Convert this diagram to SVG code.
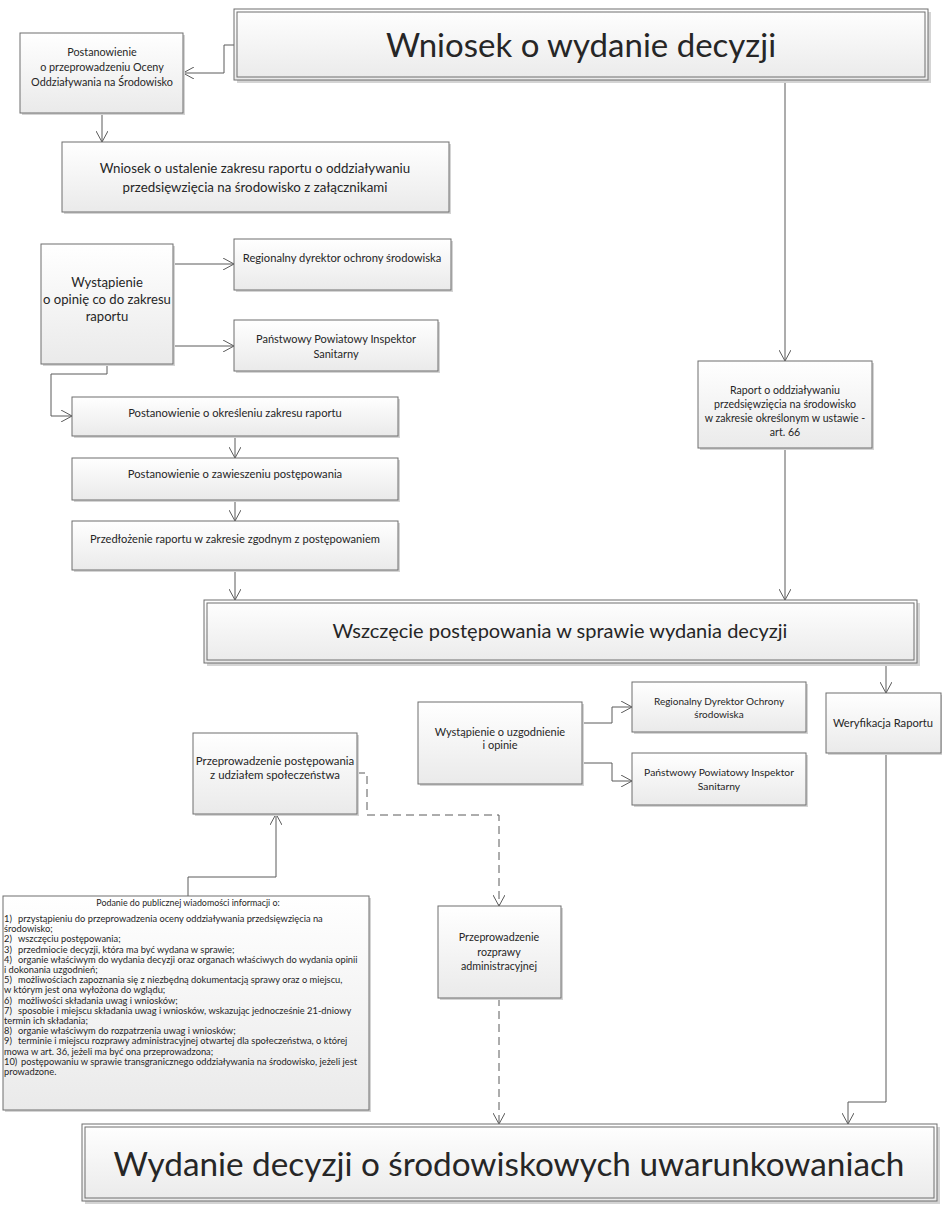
<svg xmlns="http://www.w3.org/2000/svg" width="942" height="1209" viewBox="0 0 942 1209">
<defs>
<linearGradient id="g" x1="0" y1="0" x2="0" y2="1">
<stop offset="0" stop-color="#ffffff"/>
<stop offset="1" stop-color="#eaeaea"/>
</linearGradient>
<marker id="ah" markerUnits="userSpaceOnUse" markerWidth="12" markerHeight="12" refX="11" refY="6" orient="auto">
<path d="M0,0 L11,6 L0,12" fill="none" stroke="#5a5a5a" stroke-width="1"/>
</marker>
</defs>
<style>
.box{fill:url(#g);stroke:#6e6e6e;stroke-width:1}
.in{fill:none;stroke:#6e6e6e;stroke-width:1}
.sh{fill:#d4d4d4}
text{font-family:Lato,"Open Sans","Liberation Sans",sans-serif;fill:#262626;text-anchor:middle}
.l{text-anchor:start}
.c{fill:none;stroke:#5a5a5a;stroke-width:1;marker-end:url(#ah)}
.d{stroke-dasharray:8 5}
</style>
<g id="connectors">
<path class="c" d="M234,45 H224 V73 H183"/>
<path class="c" d="M102,113 V142"/>
<path class="c" d="M173,264 H234"/>
<path class="c" d="M173,346 H234"/>
<path class="c" d="M107,364 V374 H51 V416 H72"/>
<path class="c" d="M235,436 V458"/>
<path class="c" d="M235,500 V521"/>
<path class="c" d="M235,570 V600"/>
<path class="c" d="M785,80 V361"/>
<path class="c" d="M785,448 V600"/>
<path class="c" d="M886,663 V693"/>
<path class="c" d="M886,753 V1102 H848 V1124"/>
<path class="c" d="M582,723 H612 V707 H632"/>
<path class="c" d="M582,763 H612 V781 H632"/>
<path class="c d" d="M357,773 H367 V815 H499 V906"/>
<path class="c d" d="M499,998 V1124"/>
<path class="c" d="M188,896 V877 H276 V814"/>
</g>
<g id="n-wniosek">
<rect class="sh" x="237" y="12" width="694" height="71"/>
<rect class="box" x="234" y="9" width="694" height="71"/>
<rect class="in" x="237" y="12" width="688" height="65"/>
<text x="581" y="57" font-size="33">Wniosek o wydanie decyzji</text>
</g>
<g id="n-postanowienie-oos">
<rect class="sh" x="22" y="35" width="163" height="80"/>
<rect class="box" x="20" y="33" width="163" height="80"/>
<text x="102" y="56" font-size="10.8">Postanowienie</text>
<text x="102" y="71" font-size="10.8">o przeprowadzeniu Oceny</text>
<text x="102" y="86" font-size="10.8">Oddziaływania na Środowisko</text>
</g>
<g id="n-wniosek-zakres">
<rect class="sh" x="64" y="144" width="387" height="70"/>
<rect class="box" x="62" y="142" width="387" height="70"/>
<text x="255" y="173" font-size="13.3">Wniosek o ustalenie zakresu raportu o oddziaływaniu</text>
<text x="255" y="192" font-size="13.3">przedsięwzięcia na środowisko z załącznikami</text>
</g>
<g id="n-wystapienie-opinia">
<rect class="sh" x="43" y="246" width="132" height="120"/>
<rect class="box" x="41" y="244" width="132" height="120"/>
<text x="107" y="287" font-size="13.1">Wystąpienie</text>
<text x="107" y="304" font-size="13.1">o opinię co do zakresu</text>
<text x="107" y="321" font-size="13.1">raportu</text>
</g>
<g id="n-rdos-1">
<rect class="sh" x="236" y="241" width="217" height="51"/>
<rect class="box" x="234" y="239" width="217" height="51"/>
<text x="342" y="262" font-size="11.2">Regionalny dyrektor ochrony środowiska</text>
</g>
<g id="n-ppis-1">
<rect class="sh" x="236" y="322" width="204" height="51"/>
<rect class="box" x="234" y="320" width="204" height="51"/>
<text x="336" y="343" font-size="11">Państwowy Powiatowy Inspektor</text>
<text x="336" y="358" font-size="11">Sanitarny</text>
</g>
<g id="n-okreslenie">
<rect class="sh" x="74" y="399" width="326" height="39"/>
<rect class="box" x="72" y="397" width="326" height="39"/>
<text x="235" y="417" font-size="11.2">Postanowienie o określeniu zakresu raportu</text>
</g>
<g id="n-zawieszenie">
<rect class="sh" x="74" y="460" width="326" height="42"/>
<rect class="box" x="72" y="458" width="326" height="42"/>
<text x="235" y="478" font-size="11.2">Postanowienie o zawieszeniu postępowania</text>
</g>
<g id="n-przedlozenie">
<rect class="sh" x="74" y="523" width="326" height="49"/>
<rect class="box" x="72" y="521" width="326" height="49"/>
<text x="235" y="543" font-size="11.1">Przedłożenie raportu w zakresie zgodnym z postępowaniem</text>
</g>
<g id="n-raport">
<rect class="sh" x="700" y="363" width="174" height="87"/>
<rect class="box" x="698" y="361" width="174" height="87"/>
<text x="785" y="394" font-size="10.6">Raport o oddziaływaniu</text>
<text x="785" y="408" font-size="10.6">przedsięwzięcia na środowisko</text>
<text x="785" y="422" font-size="10.6">w zakresie określonym w ustawie -</text>
<text x="785" y="436" font-size="10.6">art. 66</text>
</g>
<g id="n-wszczecie">
<rect class="sh" x="207" y="603" width="713" height="63"/>
<rect class="box" x="204" y="600" width="713" height="63"/>
<rect class="in" x="207" y="603" width="707" height="57"/>
<text x="560" y="638" font-size="20">Wszczęcie postępowania w sprawie wydania decyzji</text>
</g>
<g id="n-weryfikacja">
<rect class="sh" x="828" y="695" width="116" height="60"/>
<rect class="box" x="826" y="693" width="115" height="60"/>
<text x="883" y="727" font-size="11.2">Weryfikacja Raportu</text>
</g>
<g id="n-wystapienie-uzgodnienie">
<rect class="sh" x="420" y="704" width="164" height="82"/>
<rect class="box" x="418" y="702" width="164" height="82"/>
<text x="500" y="736" font-size="11">Wystąpienie o uzgodnienie</text>
<text x="500" y="749" font-size="11">i opinie</text>
</g>
<g id="n-rdos-2">
<rect class="sh" x="634" y="684" width="174" height="50"/>
<rect class="box" x="632" y="682" width="174" height="50"/>
<text x="719" y="705" font-size="10">Regionalny Dyrektor Ochrony</text>
<text x="719" y="718" font-size="10">środowiska</text>
</g>
<g id="n-ppis-2">
<rect class="sh" x="634" y="755" width="174" height="52"/>
<rect class="box" x="632" y="753" width="174" height="52"/>
<text x="719" y="776" font-size="10.3">Państwowy Powiatowy Inspektor</text>
<text x="719" y="790" font-size="10.3">Sanitarny</text>
</g>
<g id="n-spoleczenstwo">
<rect class="sh" x="195" y="735" width="164" height="81"/>
<rect class="box" x="193" y="733" width="164" height="81"/>
<text x="275" y="765" font-size="11.4">Przeprowadzenie postępowania</text>
<text x="275" y="779" font-size="11.4">z udziałem społeczeństwa</text>
</g>
<g id="n-rozprawa">
<rect class="sh" x="440" y="908" width="123" height="92"/>
<rect class="box" x="438" y="906" width="123" height="92"/>
<text x="499" y="941" font-size="10.7">Przeprowadzenie</text>
<text x="499" y="956" font-size="10.7">rozprawy</text>
<text x="499" y="970" font-size="10.7">administracyjnej</text>
</g>
<g id="n-podanie">
<rect class="sh" x="5" y="898" width="366" height="214"/>
<rect class="box" x="3" y="896" width="366" height="214"/>
<text x="188" y="905.5" font-size="8.9">Podanie do publicznej wiadomości informacji o:</text>
<g font-size="9.3">
<text class="l" y="922"><tspan x="4">1)</tspan><tspan x="18">przystąpieniu do przeprowadzenia oceny oddziaływania przedsięwzięcia na</tspan></text>
<text class="l" x="4" y="932.2">środowisko;</text>
<text class="l" y="942.4"><tspan x="4">2)</tspan><tspan x="18">wszczęciu postępowania;</tspan></text>
<text class="l" y="952.6"><tspan x="4">3)</tspan><tspan x="18">przedmiocie decyzji, która ma być wydana w sprawie;</tspan></text>
<text class="l" y="962.8"><tspan x="4">4)</tspan><tspan x="18">organie właściwym do wydania decyzji oraz organach właściwych do wydania opinii</tspan></text>
<text class="l" x="4" y="973">i dokonania uzgodnień;</text>
<text class="l" y="983.2"><tspan x="4">5)</tspan><tspan x="18">możliwościach zapoznania się z niezbędną dokumentacją sprawy oraz o miejscu,</tspan></text>
<text class="l" x="4" y="993.4">w którym jest ona wyłożona do wglądu;</text>
<text class="l" y="1003.6"><tspan x="4">6)</tspan><tspan x="18">możliwości składania uwag i wniosków;</tspan></text>
<text class="l" y="1013.8"><tspan x="4">7)</tspan><tspan x="18">sposobie i miejscu składania uwag i wniosków, wskazując jednocześnie 21-dniowy</tspan></text>
<text class="l" x="4" y="1024">termin ich składania;</text>
<text class="l" y="1034.2"><tspan x="4">8)</tspan><tspan x="18">organie właściwym do rozpatrzenia uwag i wniosków;</tspan></text>
<text class="l" y="1044.4"><tspan x="4">9)</tspan><tspan x="18">terminie i miejscu rozprawy administracyjnej otwartej dla społeczeństwa, o której</tspan></text>
<text class="l" x="4" y="1054.6">mowa w art. 36, jeżeli ma być ona przeprowadzona;</text>
<text class="l" y="1064.8"><tspan x="4">10)</tspan><tspan x="21">postępowaniu w sprawie transgranicznego oddziaływania na środowisko, jeżeli jest</tspan></text>
<text class="l" x="4" y="1075">prowadzone.</text>
</g>
</g>
<g id="n-wydanie">
<rect class="sh" x="85" y="1127" width="855" height="77"/>
<rect class="box" x="82" y="1124" width="855" height="77"/>
<rect class="in" x="85" y="1127" width="849" height="71"/>
<text x="509" y="1176" font-size="33.3">Wydanie decyzji o środowiskowych uwarunkowaniach</text>
</g>
</svg>
